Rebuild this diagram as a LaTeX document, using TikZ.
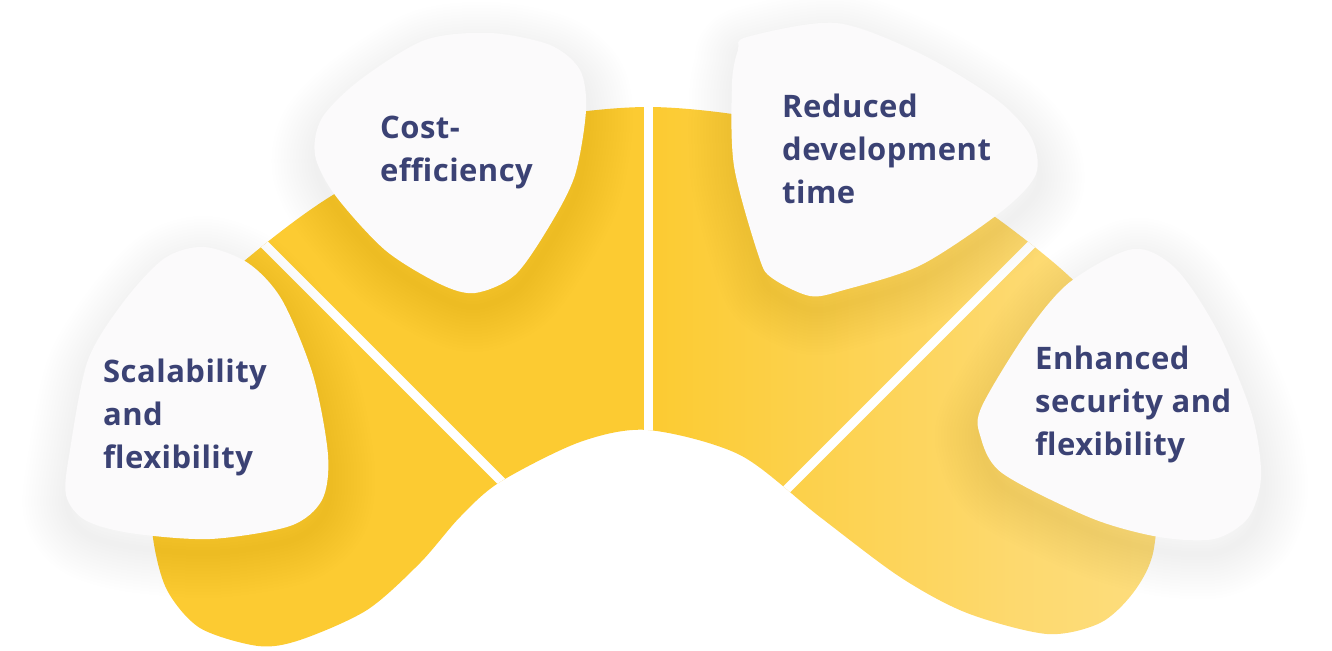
\documentclass[tikz,border=0pt]{standalone}
\usepackage{fontspec}
\usepackage{tikz}
\newfontfamily\labelfont{Open Sans}[LetterSpace=1.5]
\definecolor{archyellow}{HTML}{FCCB32}
\definecolor{archmid}{HTML}{FDD96F}
\definecolor{archlight}{HTML}{FEEDB0}
\definecolor{petalfill}{HTML}{FBFAFB}
\definecolor{labelink}{HTML}{3B4274}
\pgfdeclarehorizontalshading{archshading}{100bp}{color(0bp)=(archyellow); color(50bp)=(archyellow); color(68bp)=(archmid); color(100bp)=(archlight)}
\def\archpath{plot[smooth cycle] coordinates {(258,646) (200,628) (167,590) (153,538) (150,470) (165,390) (184,323) (243,262) (345,188) (491,128) (648,107) (805,128) (950,188) (1053,262) (1111,323) (1145,400) (1158,480) (1153,553) (1133,593) (1100,623) (1047,634) (967,613) (900,577) (820,517) (740,455) (648,430) (580,442) (500,482) (460,517) (420,563) (367,610) (300,640)}}
\def\petalscal{plot[smooth cycle] coordinates {(204,247) (248,263) (282,300) (313,375) (328,455) (322,500) (290,526) (210,539) (130,533) (85,520) (66,495) (70,450) (88,360) (125,300) (165,258)}}
\def\petalcost{plot[smooth cycle] coordinates {(425,40) (490,33) (550,45) (580,70) (586,110) (575,175) (550,225) (515,275) (475,293) (440,284) (385,250) (335,195) (315,155) (322,118) (360,80)}}
\def\petaltime{plot[smooth cycle] coordinates {(747,37) (836,23) (921,54) (997,100) (1031,137) (1036,174) (1002,211) (921,265) (844,290) (810,296) (772,278) (759,257) (734,166) (732,83) (738,50)}}
\def\petalsecur{plot[smooth cycle] coordinates {(1133,249) (1176,269) (1218,332) (1252,415) (1261,477) (1248,518) (1214,539) (1159,537) (1091,518) (1002,473) (980,435) (982,406) (1027,332) (1070,282)}}

\begin{document}
\begin{tikzpicture}[x=1pt, y=-1pt,
  petal/.style={fill=petalfill},
  haze/.style={draw=black, draw opacity=0.0045, line join=round, shift={(2,14)}},
  divider/.style={draw=white, line width=9pt},
  benefit/.style={font=\labelfont\bfseries\fontsize{31}{43}\selectfont, text=labelink, align=left, inner sep=0pt, anchor=base west}]
  \useasboundingbox (0,0) rectangle (1332,650);
  \shade[shading=archshading] \archpath;
  \begin{scope}
    \clip \archpath;
    \draw[divider] (648,80) -- (648,460);
    \draw[divider] (220,200) -- (540,520);
    \draw[divider] (1076,200) -- (756,520);
  \end{scope}
  \foreach \p in {\petalscal,\petalcost,\petaltime,\petalsecur}
    \foreach \w in {6,12,...,90}
      \draw[haze, line width=\w pt] \p;
  \foreach \p in {\petalscal,\petalcost,\petaltime,\petalsecur}
    \fill[petal] \p;
  \node[benefit] (scal) at (103,468) {Scalability\\and\\flexibility};
  \node[benefit] (cost) at (380,181) {Cost-\\efficiency};
  \node[benefit] (devtime) at (782,203) {Reduced\\development\\time};
  \node[benefit] (secur) at (1035,455) {Enhanced\\security and\\flexibility};
\end{tikzpicture}
\end{document}
